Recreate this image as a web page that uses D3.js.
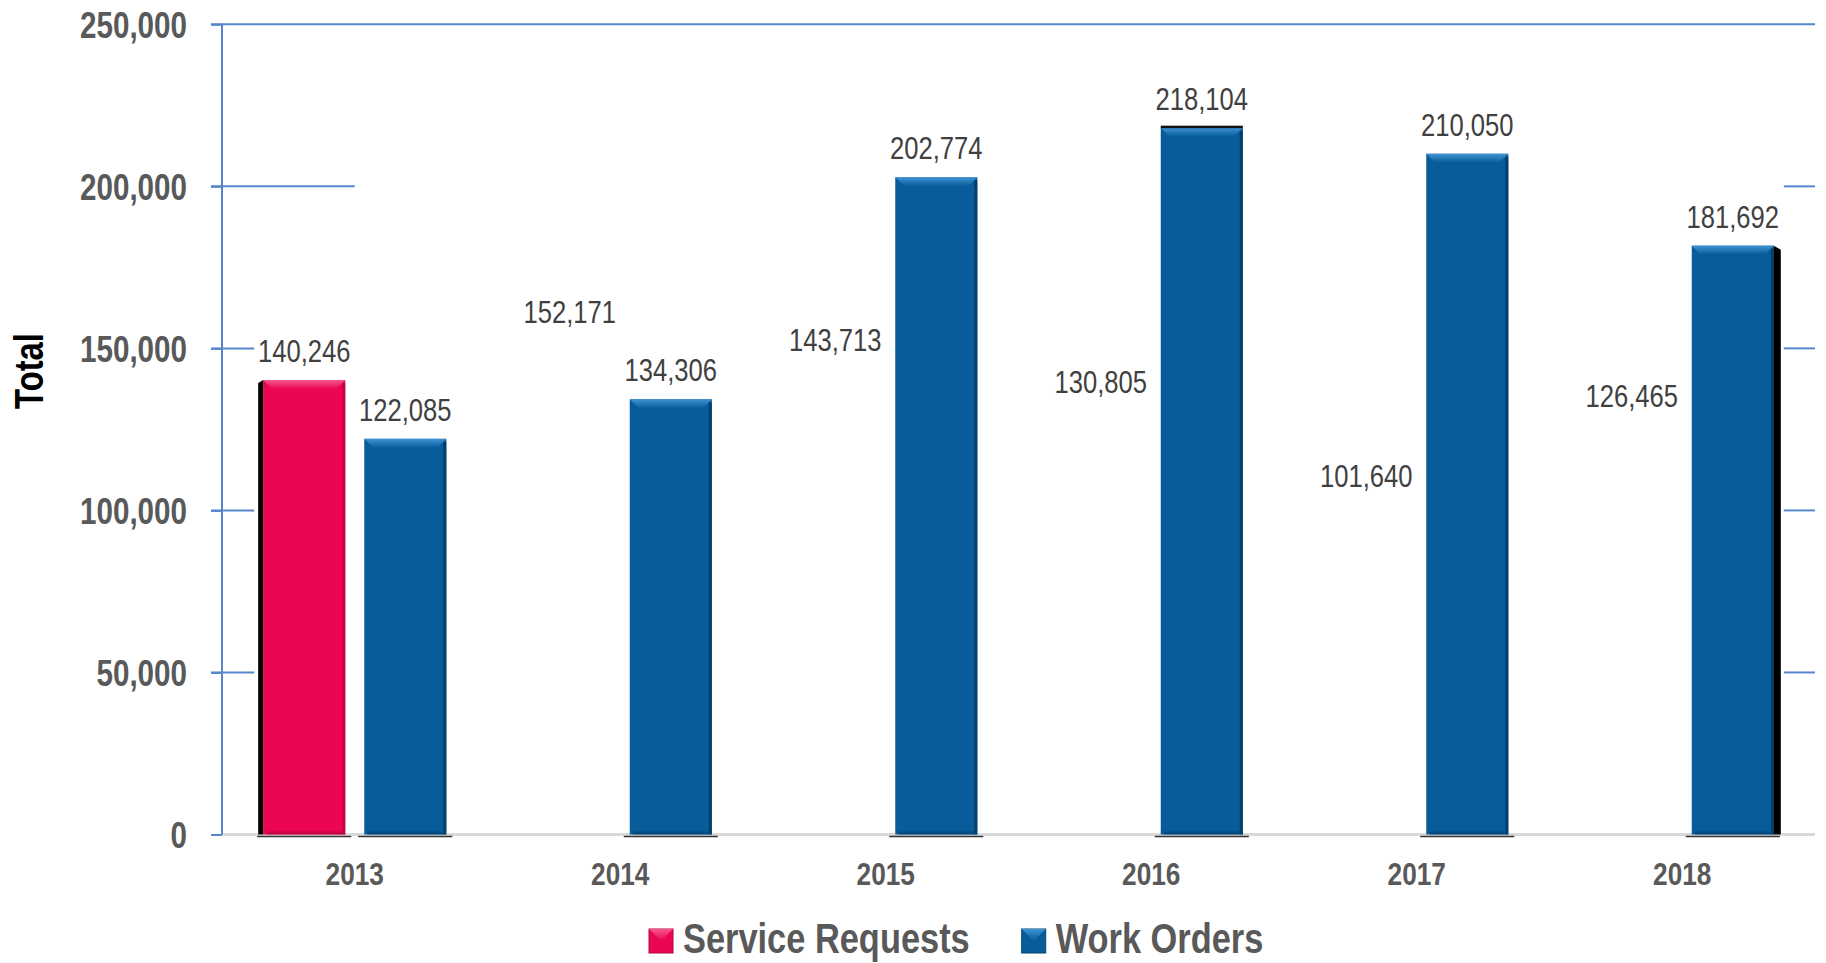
<!DOCTYPE html>
<html>
<head>
<meta charset="utf-8">
<script src="https://cdn.jsdelivr.net/npm/d3@7"></script>
<style>
  body { margin: 0; background: #fff; }
  text { font-family: "Liberation Sans Narrow", "Arial Narrow", "Liberation Sans", sans-serif; }
</style>
</head>
<body>
<svg width="1826" height="963"></svg>
<script>
var years = ["2013", "2014", "2015", "2016", "2017", "2018"];
var seriesNames = ["Service Requests", "Work Orders"];
var serviceRequests = [140246, 152171, 143713, 130805, 101640, 126465];
var workOrders = [122085, 134306, 202774, 218104, 210050, 181692];
var srShownYears = ["2013"];
var yTicks = [0, 50000, 100000, 150000, 200000, 250000];

var svg = d3.select("svg"),
    margin = {top: 24.3, right: 11, bottom: 128.5, left: 222},
    width = +svg.attr("width") - margin.left - margin.right,
    height = +svg.attr("height") - margin.top - margin.bottom,
    g = svg.append("g").attr("transform", "translate(" + margin.left + "," + margin.top + ")");

var blue = "#5687cc";
var fmt = d3.format(",");
var squeeze = 0.82;   // no narrow font installed, so squeeze text horizontally

function narrow(sel, sx) {
  sx = sx || squeeze;
  sel.each(function() {
    var t = d3.select(this),
        tx = +t.attr("x") || 0,
        ty = +t.attr("y") || 0;
    t.attr("x", 0).attr("y", 0)
     .attr("transform", "translate(" + tx + "," + ty + ") scale(" + sx + ",1)");
  });
}

var colors = {
  "Service Requests": {main: "#ec0652", top: "#f5578f", side: "#c4044a", bottom: "#b50443"},
  "Work Orders": {main: "#075c99", top: "#3f93d4", side: "#053f6b", bottom: "#044573"}
};

var data = years.map(function(yr, i) {
  return {year: yr, values: [
    {key: "Service Requests", value: serviceRequests[i], shown: srShownYears.indexOf(yr) >= 0},
    {key: "Work Orders", value: workOrders[i], shown: true}
  ]};
});

var x0 = d3.scaleBand().domain(years).range([0, width]);
var x1 = d3.scaleBand().domain(seriesNames).range([0, x0.bandwidth()])
    .paddingInner(0.188).paddingOuter(0.4075);
var y = d3.scaleLinear().domain([0, 250000]).range([height, 0]);

// gradients for the bevelled tops
var defs = svg.append("defs");
seriesNames.forEach(function(s, i) {
  var gr = defs.append("linearGradient").attr("id", "top" + i)
      .attr("x1", 0).attr("y1", 0).attr("x2", 0).attr("y2", 1);
  gr.append("stop").attr("offset", "0%").attr("stop-color", colors[s].top);
  gr.append("stop").attr("offset", "100%").attr("stop-color", colors[s].main);
});

// gridlines (only the stubs that show in the original)
var leftEnd = x0("2013") + x1("Service Requests") - 9;
var rightStart = x0("2018") + x1("Work Orders") + x1.bandwidth() + 10;
yTicks.forEach(function(t) {
  if (t === 0) return;
  if (t === 250000) {
    g.append("line").attr("x1", -11).attr("x2", width).attr("y1", y(t)).attr("y2", y(t))
        .attr("stroke", blue).attr("stroke-width", 2);
    return;
  }
  var le = t === 200000 ? x0("2013") + x0.bandwidth() / 2 : leftEnd;
  g.append("line").attr("x1", -11).attr("x2", le).attr("y1", y(t)).attr("y2", y(t))
      .attr("stroke", blue).attr("stroke-width", 2);
  g.append("line").attr("x1", rightStart).attr("x2", width).attr("y1", y(t)).attr("y2", y(t))
      .attr("stroke", blue).attr("stroke-width", 2);
});

// floor line
g.append("line").attr("x1", 0).attr("x2", width).attr("y1", height).attr("y2", height)
    .attr("stroke", "#d9d9d9").attr("stroke-width", 3);

// y axis
var yAxis = g.append("g")
    .call(d3.axisLeft(y).tickValues(yTicks).tickFormat(fmt).tickSize(11).tickPadding(24));
yAxis.select(".domain").attr("stroke", blue).attr("stroke-width", 2).attr("d", "M0," + height + "V0");
yAxis.selectAll(".tick line").attr("stroke", blue).attr("stroke-width", 2);
yAxis.selectAll(".tick text")
    .attr("fill", "#595959").attr("font-size", 37).attr("font-weight", "bold")
    .attr("dy", "0.35em")
    .call(narrow, 0.8);

// x axis labels
g.append("g").selectAll("text").data(years).enter().append("text")
    .attr("x", function(d) { return x0(d) + x0.bandwidth() / 2; })
    .attr("y", 885 - margin.top)
    .attr("text-anchor", "middle")
    .attr("fill", "#595959").attr("font-size", 32).attr("font-weight", "bold")
    .text(function(d) { return d; })
    .call(narrow);

// bars
var groups = g.selectAll(".grp").data(data).enter().append("g")
    .attr("class", "grp")
    .attr("transform", function(d) { return "translate(" + x0(d.year) + ",0)"; });

var bars = groups.selectAll(".bar").data(function(d) {
  return d.values.map(function(v) { v.year = d.year; return v; });
}).enter().append("g").attr("class", "bar")
    .filter(function(d) { return d.shown; });

var bw = x1.bandwidth(), bev = 9;
bars.append("line")
    .attr("x1", function(d) { return x1(d.key) - 6; })
    .attr("x2", function(d) { return x1(d.key) + bw + 6; })
    .attr("y1", height + 2).attr("y2", height + 2)
    .attr("stroke", "#333").attr("stroke-width", 1.5);
bars.append("rect")
    .attr("x", function(d) { return x1(d.key); })
    .attr("y", function(d) { return y(d.value); })
    .attr("width", bw)
    .attr("height", function(d) { return height - y(d.value); })
    .attr("fill", function(d) { return colors[d.key].main; });
bars.append("path")
    .attr("d", function(d) {
      var bx = x1(d.key), by = y(d.value);
      return "M" + bx + "," + by + "H" + (bx + bw) + "L" + (bx + bw - bev) + "," + (by + bev) +
             "H" + (bx + bev) + "Z";
    })
    .attr("fill", function(d) { return "url(#top" + seriesNames.indexOf(d.key) + ")"; });
bars.append("rect")
    .attr("x", function(d) { return x1(d.key) + bw - 3; })
    .attr("y", function(d) { return y(d.value) + 3; })
    .attr("width", 3)
    .attr("height", function(d) { return height - y(d.value) - 3; })
    .attr("fill", function(d) { return colors[d.key].side; });
bars.append("rect")
    .attr("x", function(d) { return x1(d.key) + 3; })
    .attr("y", height - 3)
    .attr("width", bw - 6)
    .attr("height", 3)
    .attr("fill", function(d) { return colors[d.key].bottom; })
    .attr("opacity", 0.7);

// odd black edges from the original's 3-D look
bars.filter(function(d) { return d.year === "2013" && d.key === "Service Requests"; })
  .append("path")
    .attr("d", function(d) {
      var bx = x1(d.key), by = y(d.value);
      return "M" + (bx - 5) + "," + (by + 3) + "L" + bx + "," + by + "V" + height + "H" + (bx - 5) + "Z";
    })
    .attr("fill", "#000");
bars.filter(function(d) { return d.year === "2018" && d.key === "Work Orders"; })
  .append("path")
    .attr("d", function(d) {
      var bx = x1(d.key) + bw, by = y(d.value);
      return "M" + bx + "," + by + "L" + (bx + 7) + "," + (by + 4) + "V" + height + "H" + bx + "Z";
    })
    .attr("fill", "#000");
bars.filter(function(d) { return d.year === "2016" && d.key === "Work Orders"; })
  .append("rect")
    .attr("x", function(d) { return x1(d.key); })
    .attr("y", function(d) { return y(d.value) - 2; })
    .attr("width", bw).attr("height", 2.5)
    .attr("fill", "#111");

// value labels (for every value, shown bar or not)
groups.selectAll(".lbl").data(function(d) { return d.values; }).enter().append("text")
    .attr("class", "lbl")
    .attr("x", function(d) { return x1(d.key) + bw / 2; })
    .attr("y", function(d) { return y(d.value) - 18; })
    .attr("text-anchor", "middle")
    .attr("fill", "#404040").attr("font-size", 32)
    .text(function(d) { return fmt(d.value); })
    .call(narrow, 0.8);

// y title
svg.append("text")
    .attr("transform", "translate(43,371) rotate(-90) scale(" + squeeze + ",1)")
    .attr("text-anchor", "middle")
    .attr("fill", "#000").attr("font-size", 40).attr("font-weight", "bold")
    .text("Total");

// legend
var legend = svg.append("g").attr("transform", "translate(649,929)");
var lx = 0, lsx = 0.8;
seriesNames.forEach(function(s, i) {
  var item = legend.append("g").attr("transform", "translate(" + lx + ",0)");
  item.append("rect").attr("width", 24).attr("height", 24)
      .attr("fill", colors[s].main).attr("stroke", colors[s].bottom).attr("stroke-width", 1);
  item.append("path").attr("d", "M0,0H24L12,12Z").attr("fill", "url(#top" + i + ")");
  var t = item.append("text").attr("x", 34).attr("y", 24)
      .attr("fill", "#595959").attr("font-size", 43).attr("font-weight", "bold")
      .text(s)
      .call(narrow, lsx);
  lx += 34 + t.node().getComputedTextLength() * lsx + 52;
});
</script>
</body>
</html>
